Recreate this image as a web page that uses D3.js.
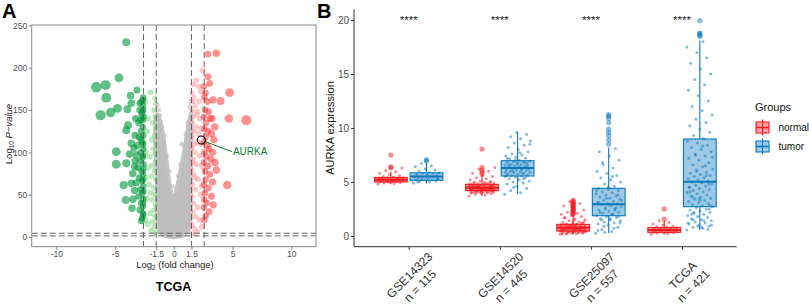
<!DOCTYPE html>
<html lang="en">
<head>
<meta charset="UTF-8"/>
<title>AURKA – volcano plot and expression by dataset</title>
<script src="https://d3js.org/d3.v7.min.js"></script>
<style>
  body { margin: 0; background: #fff; }
  svg { display: block; font-family: "Liberation Sans", Arial, sans-serif; }
  .tickA text { fill: #4d4d4d; font-size: 8.5px; }
  .tickA line { stroke: #7f7f7f; }
  .tickB text { fill: #4d4d4d; font-size: 10px; }
  .tickB line, .tickB path { stroke: #333; }
</style>
</head>
<body>
<svg id="fig" width="809" height="306"></svg>
<script>
// ---------- panel A data (log2 fold change, -log10 p) ----------
const vLines = [-2.58, -1.5, 1.5, 2.58];
const hLines = [1.3, 4.4];
const xTicksA = [-10, -5, -1.5, 0, 1.5, 5, 10];
const yTicksA = [0, 50, 100, 150, 200, 250];

// outline of the dense grey (not significant) cloud
const greyCloud = [[-1.5,146],[-1.5,60],[-1.5,22],[-1.3,7],[-0.9,1.5],[-0.4,-0.8],[0,-1.2],[0.4,-0.8],[0.9,1.5],[1.3,7],
  [1.5,22],[1.5,60],[1.5,150],[1.3,141],[0.78,99],[0.21,59],[0,46],[-0.26,59],[-0.64,99],[-1.15,140]];
const greyPoints = [[-1.3,150],[-1.42,156],[-1.0,130],[-0.85,112],[-0.55,96],[-0.35,78],[-0.1,60],[0.12,57],[0.35,72],
  [0.55,86],[0.8,108],[1.0,122],[1.2,135],[1.35,154],[1.45,160],[-1.2,144],[-0.75,120],[0.65,110],[0.05,50],[-1.45,120],
  [1.45,125],[-1.1,20],[1.1,18],[-0.6,8],[0.6,8],[0,3],[-1.4,80],[1.4,90]];

const downStrong = [[-4.05,230],[-6.6,177],[-5.8,179.5],[-4.67,188],[-5.75,164.6],[-6.23,144],[-5.38,147],[-4.8,152],
  [-3.96,151],[-3.68,167],[-3.14,173.6],[-3.62,158],[-2.63,162],[-2.91,150],[-3.9,132],[-4.05,126],[-3.62,110.6],
  [-4.9,100.8],[-3.76,98],[-4.9,86],[-4.05,87],[-3.34,83],[-4.27,61.4],[-3.62,63.4],[-4.1,43.7],[-3.48,44.5],
  [-3.56,33.9],[-2.63,28],[-2.77,19],
  [-2.6,165],[-2.75,160],[-2.62,155],[-2.9,158],[-2.7,148],[-2.58,142],[-2.85,138],[-3.0,135],[-2.65,130],[-2.78,125],
  [-2.6,120],[-2.95,118],[-2.7,112],[-3.1,108],[-2.6,104],[-2.82,100],[-3.2,97],[-2.66,94],[-2.9,90],[-2.58,86],
  [-3.05,82],[-2.75,78],[-2.62,74],[-2.95,70],[-2.7,66],[-3.2,64],[-2.6,60],[-2.85,56],[-2.68,52],[-3.0,48],[-2.6,45],
  [-2.78,40],[-2.63,36],[-2.9,32],[-2.6,26],[-2.7,22],[-3.3,120],[-3.4,105],[-3.3,90],[-3.5,75],[-3.25,140],[-3.35,55],
  [-2.6,150],[-2.65,138],[-2.6,110],[-2.62,96],[-2.6,80],[-2.64,68],[-2.6,54],[-2.62,40],[-2.75,145],[-2.8,115]];

const downWeak = [[-1.55,158],[-1.7,150],[-1.6,142],[-2.0,171],[-1.8,135],[-1.55,128],[-2.2,140],[-1.65,120],[-1.9,115],
  [-1.55,110],[-2.3,125],[-1.75,104],[-1.6,98],[-2.05,95],[-1.55,90],[-1.8,85],[-2.4,100],[-1.65,78],[-1.9,72],
  [-1.55,68],[-2.1,62],[-1.7,58],[-1.6,50],[-2.3,45],[-1.85,44],[-1.55,38],[-1.7,32],[-2.0,28],[-1.6,24],[-1.8,18],
  [-2.2,15],[-1.65,12],[-1.9,8],[-1.55,5],[-2.4,20],[-2.45,160],[-1.6,164],[-2.15,82],[-2.4,70],[-1.95,52]];

const upWeak = [[1.55,170],[1.7,165],[1.9,185],[2.45,197],[2.1,178],[1.6,160],[2.3,172],[1.8,155],[1.55,150],[2.0,148],
  [1.65,142],[2.2,140],[1.55,135],[1.9,130],[1.7,125],[2.35,128],[1.6,118],[2.0,112],[1.55,105],[1.8,100],[2.2,96],
  [1.65,92],[1.9,86],[1.55,80],[2.4,84],[1.7,74],[2.05,68],[1.6,62],[1.85,56],[2.3,50],[1.55,48],[1.7,40],[2.0,35],
  [1.6,30],[1.85,24],[2.2,20],[1.55,15],[1.75,10],[2.0,6],[1.6,4],[2.4,12],[1.65,180],[2.15,160],[1.75,110],[2.1,122],
  [1.95,145],[2.4,60],[2.3,110],[1.6,88],[1.8,70]];

const upStrong = [[2.9,216],[3.62,217],[4.75,170.5],[3.98,160.7],[4.69,140],[6.17,138],[4.55,61.4],[3.62,79],[3.48,130],
  [3.33,162],[3.05,181.5],[2.9,189.4],
  [2.55,178],[2.7,170],[2.6,165],[2.85,160],[2.65,150],[2.95,148],[2.55,142],[3.1,140],[2.75,135],[2.6,128],[2.9,125],
  [3.2,122],[2.7,118],[2.55,112],[2.85,108],[3.0,104],[2.6,100],[2.75,95],[3.15,92],[2.55,88],[2.9,84],[2.65,78],
  [3.05,74],[2.7,68],[2.55,62],[2.95,58],[2.65,52],[3.2,48],[2.6,44],[2.8,40],[2.55,35],[3.0,30],[2.7,25],[2.6,20],
  [3.3,100],[3.4,115],[3.3,65],[3.25,140],[3.5,88],[3.35,38]];

const aurkaPoint = [2.34, 114.6];
const aurkaLabel = [5.03, 100.8];

// ---------- panel B data (AURKA expression) ----------
const datasets = ["GSE14323", "GSE14520", "GSE25097", "TCGA"];
const sampleN = [115, 445, 557, 421];
const groups = ["normal", "tumor"];
const yTicksB = [0, 5, 10, 15, 20];
const signif = ["****", "****", "****", "****"];

// [lower whisker, q1, median, q3, upper whisker]
const normalStats = [[4.78,5.0,5.2,5.42,5.95],[3.7,4.2,4.47,4.78,5.6],[0.12,0.45,0.76,1.07,1.95],[0.12,0.33,0.55,0.78,1.4]];
const tumorStats  = [[4.85,5.15,5.5,5.85,6.75],[3.85,5.55,6.3,6.97,9.6],[0.25,1.87,2.93,4.41,8.2],[0.55,2.71,5.03,8.98,18.1]];

const normalOutliers = [[7.5,6.4,6.3],[8.05,6.35,6.1,5.9,5.75],[2.0,2.1,2.2,2.3,2.4,2.5,2.6,2.7,2.8,2.9,3.0,3.1,3.2,3.3],[2.5,1.55]];
const tumorOutliers = [[7.05,6.95],[],[8.5,8.9,9.3,9.6,9.9,10.5,10.9,11.1,11.25],[18.5,18.6,18.75,18.8,19.95]];

const normalPoints = [
  [4.8,4.85,4.9,4.95,5.0,5.0,5.05,5.05,5.1,5.1,5.15,5.15,5.2,5.2,5.2,5.25,5.25,5.3,5.3,5.35,5.4,5.4,5.45,5.5,5.6,5.7,5.8,5.95,6.05,6.3,
   5.1,5.2,5.3,5.0,5.25,5.15],
  [3.7,3.8,3.85,3.9,3.95,4.0,4.0,4.05,4.05,4.1,4.1,4.15,4.15,4.2,4.2,4.2,4.25,4.25,4.3,4.3,4.3,4.35,4.35,4.4,4.4,4.4,4.45,4.45,4.5,4.5,
   4.5,4.55,4.55,4.6,4.6,4.65,4.65,4.7,4.7,4.75,4.8,4.85,4.9,4.95,5.0,5.05,5.1,5.2,5.3,5.4,5.5,5.6,5.8,6.0,6.2,6.35,4.25,4.45,4.6,4.35,
   4.0,4.1,4.2,4.3,4.4,4.5,4.6,4.7,4.8,4.9,4.05,4.15,4.25,4.35,4.45,4.55,4.65,4.75,4.85,4.95,4.1,4.3,4.5,4.7,4.2,4.4,4.6,4.35,4.45,4.55],
  [0.15,0.2,0.2,0.25,0.3,0.3,0.35,0.35,0.4,0.4,0.45,0.45,0.5,0.5,0.5,0.55,0.55,0.6,0.6,0.6,0.65,0.65,0.7,0.7,0.75,0.75,0.8,0.8,0.85,0.85,
   0.9,0.9,0.95,1.0,1.0,1.05,1.1,1.15,1.2,1.25,1.3,1.4,1.5,1.6,1.7,1.8,1.9,2.0,2.1,2.2,2.4,2.6,2.8,3.0,3.2,0.4,0.6,0.7,0.8,1.0,
   0.2,0.3,0.4,0.5,0.6,0.7,0.8,0.9,1.0,1.1,0.25,0.35,0.45,0.55,0.65,0.75,0.85,0.95,1.05,1.2,0.3,0.5,0.7,0.9,1.3,1.45,1.65,0.6,0.8,0.45],
  [0.15,0.2,0.25,0.3,0.3,0.35,0.35,0.4,0.4,0.45,0.45,0.5,0.5,0.55,0.55,0.6,0.6,0.65,0.65,0.7,0.7,0.75,0.8,0.85,0.9,1.0,1.1,1.25,1.4,0.5]
];
const tumorPoints = [
  [4.9,5.0,5.05,5.1,5.15,5.2,5.2,5.25,5.3,5.35,5.4,5.45,5.45,5.5,5.5,5.55,5.6,5.65,5.7,5.75,5.8,5.85,5.9,6.0,6.1,6.2,6.4,6.5,6.7,5.3,5.6,5.0],
  [3.85,4.0,4.2,4.4,4.6,4.8,4.9,5.0,5.1,5.2,5.3,5.4,5.45,5.5,5.55,5.6,5.65,5.7,5.75,5.8,5.85,5.9,5.95,6.0,6.05,6.1,6.15,6.2,6.25,6.3,
   6.35,6.4,6.45,6.5,6.55,6.6,6.65,6.7,6.75,6.8,6.85,6.9,6.95,7.0,7.1,7.2,7.3,7.4,7.5,7.6,7.8,8.0,8.2,8.4,8.6,8.8,9.0,9.2,9.4,9.6,
   5.6,5.8,6.0,6.2,6.4,6.6,6.8,7.0,5.9,6.1,6.3,6.5,6.7,7.2,5.3,4.5,8.5,7.7],
  [0.25,0.4,0.6,0.8,1.0,1.1,1.2,1.3,1.4,1.5,1.6,1.7,1.8,1.9,2.0,2.1,2.2,2.3,2.4,2.5,2.6,2.7,2.8,2.9,3.0,3.0,3.1,3.2,3.3,3.4,
   3.5,3.6,3.7,3.8,3.9,4.0,4.1,4.2,4.3,4.4,4.6,4.8,5.0,5.2,5.4,5.6,5.8,6.0,6.3,6.6,7.0,7.4,7.8,8.1,2.5,3.3,2.0,1.5,3.8,4.5,
   0.5,0.7,0.9,1.2,1.6,2.2,2.6,3.5,4.2,5.5,6.8,1.8,2.9,3.1,2.4,0.35],
  [0.55,0.7,0.8,0.9,1.0,1.1,1.2,1.3,1.4,1.5,1.6,1.7,1.8,1.9,2.0,2.1,2.2,2.3,2.4,2.5,2.6,2.7,2.8,2.9,3.0,3.1,3.2,3.3,3.4,3.5,
   3.6,3.7,3.8,3.9,4.0,4.1,4.2,4.3,4.4,4.5,4.6,4.7,4.8,4.9,5.0,5.1,5.2,5.3,5.4,5.5,5.6,5.7,5.8,5.9,6.0,6.2,6.4,6.6,6.8,7.0,
   7.2,7.4,7.6,7.8,8.0,8.2,8.4,8.6,8.8,9.0,9.3,9.6,9.9,10.2,10.5,10.8,11.2,11.6,12.0,12.5,13.0,13.5,14.0,14.5,15.0,15.5,16.0,
   16.5,17.0,17.5,18.0,1.5,2.5,3.5,4.5,6.5,7.5,1.0,0.8,2.0,0.6,0.9,1.2,1.4,2.2,2.8,3.3,4.1,5.6,6.1,7.3,8.3,3.6,4.8]
];

const colors = { normal: "#F5181E", tumor: "#0A77BE" };

const svg = d3.select("#fig");

// ================= Panel A: volcano =================
const A = { left: 31.7, right: 316, top: 25, bottom: 246.7 };
const xA = d3.scaleLinear().domain([-12.1, 12.1]).range([A.left, A.right]);
const yA = d3.scaleLinear().domain([-11.5, 250.5]).range([A.bottom, A.top]);
const rA = d3.scaleLinear().domain([0, 7]).range([1.8, 5.6]);

svg.append("clipPath").attr("id", "clipA")
  .append("rect").attr("x", A.left).attr("y", A.top)
  .attr("width", A.right - A.left).attr("height", A.bottom - A.top);

const gA = svg.append("g").attr("clip-path", "url(#clipA)");

gA.append("path")
  .datum(greyCloud)
  .attr("d", d3.line().x(d => xA(d[0])).y(d => yA(d[1])).curve(d3.curveCatmullRomClosed))
  .attr("fill", "#bebebe")
  .attr("stroke", "#c4c4c4")
  .attr("stroke-width", 2.5)
  .attr("stroke-linejoin", "round");

function dots(data, fill, opacity) {
  gA.append("g").selectAll("circle")
    .data(data)
    .enter().append("circle")
    .attr("cx", d => xA(d[0]))
    .attr("cy", d => yA(d[1]))
    .attr("r", d => rA(Math.abs(d[0])))
    .attr("fill", fill)
    .attr("fill-opacity", opacity);
}
dots(greyPoints, "#bdbdbd", 0.6);
dots(downWeak, "#8ed88e", 0.6);
dots(upWeak, "#ff9c9c", 0.55);
dots(downStrong, "#00993a", 0.62);
dots(upStrong, "#ff3636", 0.55);

// threshold lines
gA.selectAll(".vline").data(vLines).enter().append("line")
  .attr("x1", d => xA(d)).attr("x2", d => xA(d))
  .attr("y1", A.top).attr("y2", A.bottom)
  .attr("stroke", "#555").attr("stroke-width", 0.9).attr("stroke-dasharray", "6,3");
gA.selectAll(".hline").data(hLines).enter().append("line")
  .attr("x1", A.left).attr("x2", A.right)
  .attr("y1", d => yA(d)).attr("y2", d => yA(d))
  .attr("stroke", "#555").attr("stroke-width", 0.9).attr("stroke-dasharray", "6,3");

// AURKA highlight
gA.append("line")
  .attr("x1", xA(aurkaPoint[0]) + 3.5).attr("y1", yA(aurkaPoint[1]) + 1.5)
  .attr("x2", xA(aurkaLabel[0]) - 1).attr("y2", yA(aurkaLabel[1]))
  .attr("stroke", "#11822a").attr("stroke-width", 1);
gA.append("circle")
  .attr("cx", xA(aurkaPoint[0])).attr("cy", yA(aurkaPoint[1])).attr("r", 4)
  .attr("fill", "none").attr("stroke", "#000").attr("stroke-width", 1.2);
gA.append("text")
  .attr("x", xA(aurkaLabel[0])).attr("y", yA(aurkaLabel[1]) + 3.6)
  .attr("fill", "#11822a").attr("font-size", 10).text("AURKA");

// frame + axes
svg.append("rect")
  .attr("x", A.left).attr("y", A.top)
  .attr("width", A.right - A.left).attr("height", A.bottom - A.top)
  .attr("fill", "none").attr("stroke", "#8a8a8a").attr("stroke-width", 1);

svg.append("g").attr("class", "tickA")
  .attr("transform", `translate(${A.left},0)`)
  .call(d3.axisLeft(yA).tickValues(yTicksA).tickSize(3).tickPadding(1.5).tickFormat(d => String(d)))
  .call(g => g.select(".domain").remove());
svg.append("g").attr("class", "tickA")
  .attr("transform", `translate(0,${A.bottom})`)
  .call(d3.axisBottom(xA).tickValues(xTicksA).tickSize(3).tickPadding(1.5).tickFormat(d => String(d)))
  .call(g => g.select(".domain").remove());

const xlabA = svg.append("text").attr("x", 175).attr("y", 267.5)
  .attr("text-anchor", "middle").attr("font-size", 9.5).attr("fill", "#222");
xlabA.append("tspan").text("Log");
xlabA.append("tspan").attr("font-size", 6.5).attr("dy", 2.5).text("2");
xlabA.append("tspan").attr("dy", -2.5).text(" (fold change)");

const ylabA = svg.append("text")
  .attr("transform", "translate(11.5,134) rotate(-90)")
  .attr("text-anchor", "middle").attr("font-size", 9.5).attr("fill", "#222");
ylabA.append("tspan").text("Log");
ylabA.append("tspan").attr("font-size", 6.5).attr("dy", 2.5).text("10");
ylabA.append("tspan").attr("dy", -2.5).text(" ");
ylabA.append("tspan").attr("font-style", "italic").text("P\u2212value");

svg.append("text").attr("x", 173.5).attr("y", 290.5).attr("text-anchor", "middle")
  .attr("font-size", 12.5).attr("font-weight", "bold").attr("fill", "#000").text("TCGA");

svg.append("text").attr("x", 2).attr("y", 18).attr("font-size", 20).attr("font-weight", "bold").text("A");
svg.append("text").attr("x", 317).attr("y", 18).attr("font-size", 20).attr("font-weight", "bold").text("B");

// ================= Panel B: boxplots =================
const B = { left: 354, right: 736.7, top: 9.3, bottom: 246.7 };
const xB = d3.scalePoint().domain(datasets).range([B.left, B.right]).padding(0.6);
const yB = d3.scaleLinear().domain([-1, 21]).range([B.bottom, B.top]);
const dodge = d3.scaleBand().domain(groups)
  .range([-xB.step() * 0.375, xB.step() * 0.375]).paddingInner(0.08);
const boxW = dodge.bandwidth();
const jitterW = 13;

const gB = svg.append("g");

function drawGroup(group, stats, points, outliers) {
  const col = colors[group];
  datasets.forEach((ds, i) => {
    const cx = xB(ds) + dodge(group) + boxW / 2;
    const g = gB.append("g");
    // jittered samples (deterministic spread)
    g.selectAll("circle.pt").data(points[i]).enter().append("circle")
      .attr("cx", (d, j) => cx + (((j * 0.618034) % 1) - 0.5) * 2 * jitterW)
      .attr("cy", d => yB(d))
      .attr("r", 1.5).attr("fill", col).attr("fill-opacity", 0.5);
    const s = stats[i];
    g.append("line").attr("x1", cx).attr("x2", cx)
      .attr("y1", yB(s[0])).attr("y2", yB(s[1])).attr("stroke", col).attr("stroke-width", 1.1);
    g.append("line").attr("x1", cx).attr("x2", cx)
      .attr("y1", yB(s[3])).attr("y2", yB(s[4])).attr("stroke", col).attr("stroke-width", 1.1);
    g.append("rect")
      .attr("x", cx - boxW / 2).attr("width", boxW)
      .attr("y", yB(s[3])).attr("height", yB(s[1]) - yB(s[3]))
      .attr("fill", col).attr("fill-opacity", 0.4)
      .attr("stroke", col).attr("stroke-width", 1.1);
    g.append("line").attr("x1", cx - boxW / 2).attr("x2", cx + boxW / 2)
      .attr("y1", yB(s[2])).attr("y2", yB(s[2])).attr("stroke", col).attr("stroke-width", 2);
    g.selectAll("circle.out").data(outliers[i]).enter().append("circle")
      .attr("cx", cx).attr("cy", d => yB(d))
      .attr("r", 2.6).attr("fill", col).attr("fill-opacity", 0.5);
  });
}
drawGroup("normal", normalStats, normalPoints, normalOutliers);
drawGroup("tumor", tumorStats, tumorPoints, tumorOutliers);

// axes
svg.append("g").attr("class", "tickB")
  .attr("transform", `translate(${B.left},0)`)
  .call(d3.axisLeft(yB).tickValues(yTicksB).tickSize(3).tickPadding(2).tickSizeOuter(0))
  .call(g => g.select(".domain").attr("d", `M0,${B.top}V${B.bottom}`));
svg.append("g").attr("class", "tickB")
  .attr("transform", `translate(0,${B.bottom})`)
  .call(d3.axisBottom(xB).tickSize(3).tickFormat(""))
  .call(g => g.select(".domain").attr("d", `M${B.left},0H${B.right}`));

datasets.forEach((ds, i) => {
  const t = svg.append("text")
    .attr("transform", `translate(${xB(ds) + 6},280.5) rotate(-45)`)
    .attr("text-anchor", "middle").attr("font-size", 12).attr("fill", "#333");
  t.append("tspan").attr("x", 0).attr("y", -7.5 + 4.2).text(ds);
  t.append("tspan").attr("x", 0).attr("y", 7.5 + 4.2).text(`n = ${sampleN[i]}`);

  svg.append("text").attr("x", xB(ds)).attr("y", 24)
    .attr("text-anchor", "middle").attr("font-size", 11.5).attr("fill", "#222").text(signif[i]);
});

svg.append("text")
  .attr("transform", `translate(334,${(B.top + B.bottom) / 2}) rotate(-90)`)
  .attr("text-anchor", "middle").attr("font-size", 11).attr("fill", "#111").text("AURKA expression");

// legend
const leg = svg.append("g").attr("transform", "translate(755,0)");
leg.append("text").attr("x", 0).attr("y", 111).attr("font-size", 11).attr("fill", "#111").text("Groups");
groups.forEach((grp, i) => {
  const cy = 127.5 + i * 19;
  const col = colors[grp];
  const k = leg.append("g");
  k.append("line").attr("x1", 7.5).attr("x2", 7.5).attr("y1", cy - 8).attr("y2", cy + 8)
    .attr("stroke", col).attr("stroke-width", 1.1);
  k.append("rect").attr("x", 1).attr("y", cy - 5.5).attr("width", 13).attr("height", 11)
    .attr("fill", col).attr("fill-opacity", 0.4).attr("stroke", col).attr("stroke-width", 1.1);
  k.append("line").attr("x1", 1).attr("x2", 14).attr("y1", cy).attr("y2", cy)
    .attr("stroke", col).attr("stroke-width", 1.6);
  leg.append("text").attr("x", 23.5).attr("y", cy + 3.6).attr("font-size", 10).attr("fill", "#111").text(grp);
});
</script>
</body>
</html>
